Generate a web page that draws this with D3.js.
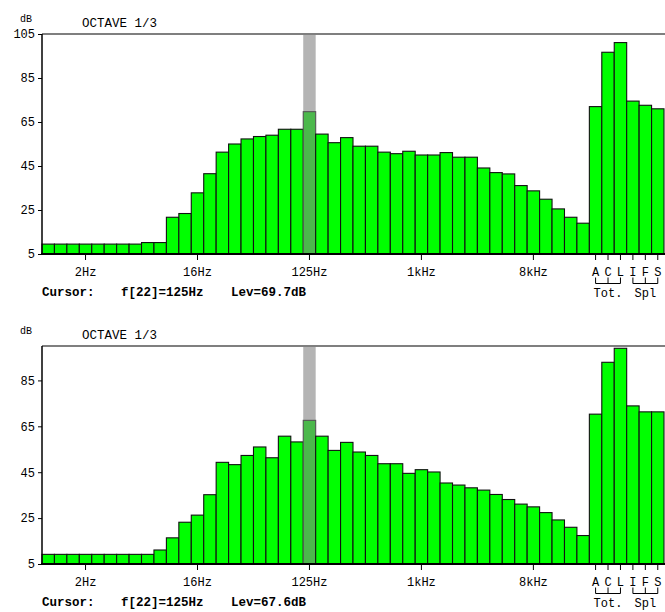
<!DOCTYPE html>
<html><head><meta charset="utf-8">
<script src="https://cdn.jsdelivr.net/npm/d3@7"></script>
<style>
body{margin:0;background:#fff}
svg text{font-family:"Liberation Mono","DejaVu Sans Mono",monospace;fill:#000}
</style>
</head><body>
<svg id="chart" width="665" height="612"></svg>
<script>
// 1/3-octave bands (Hz) followed by the overall weightings and time constants
const bands = ["1","1.25","1.6","2","2.5","3.15","4","5","6.3","8","10","12.5","16","20","25","31.5","40","50","63","80","100","125","160","200","250","315","400","500","630","800","1k","1.25k","1.6k","2k","2.5k","3.15k","4k","5k","6.3k","8k","10k","12.5k","16k","20k","A","C","L","I","F","S"];

// Tick labels shown under the frequency axis
const tickLabels = {"2":"2Hz","16":"16Hz","125":"125Hz","1k":"1kHz","8k":"8kHz","A":"A","C":"C","L":"L","I":"I","F":"F","S":"S"};

// Levels in dB, upper spectrum
const levelsTop = [9.5,9.5,9.5,9.5,9.5,9.5,9.5,9.5,10.2,10.2,21.7,23.4,32.8,41.5,51.3,55.0,57.3,58.4,59.0,61.7,61.7,69.7,59.5,55.6,57.9,54.0,54.0,51.3,50.6,51.7,50.0,50.0,51.1,49.0,49.0,44.1,42.0,41.4,36.1,33.7,29.9,25.5,21.7,19.0,72.0,96.7,101.1,74.5,72.6,71.0];

// Levels in dB, lower spectrum
const levelsBottom = [9.2,9.2,9.2,9.2,9.2,9.2,9.2,9.2,9.2,11.1,16.4,23.2,26.3,35.2,49.3,48.3,52.3,56.0,51.3,60.7,58.2,67.6,60.7,54.5,58.0,53.8,52.3,48.7,48.7,44.5,46.1,45.1,40.3,39.4,38.2,37.2,35.3,33.1,31.1,29.9,27.4,24.2,21.0,17.4,70.3,92.9,99.0,73.9,71.3,71.3];

const yTicksTop = [5,25,45,65,85,105];
const yTicksBottom = [5,25,45,65,85];
const yDomainTop = [5,105];
const yDomainBottom = [5,100];

const cursorIndex = 21;           // f[22] in 1-based numbering
const groups = [
  {label:"Tot.", from:"A", to:"L"},
  {label:"Spl",  from:"I", to:"S"}
];

const svg = d3.select("#chart");
const x = d3.scaleBand().domain(bands).range([42, 664]).paddingInner(0).paddingOuter(0);

const panels = [
  {values: levelsTop, domain: yDomainTop, ticks: yTicksTop, top: 34, base: 254},
  {values: levelsBottom, domain: yDomainBottom, ticks: yTicksBottom, top: 346, base: 564}
];

panels.forEach(p => {
  const g = svg.append("g");
  const y = d3.scaleLinear().domain(p.domain).range([p.base, p.top]);

  // frame: top rule
  g.append("line").attr("x1", 42).attr("x2", 665).attr("y1", p.top).attr("y2", p.top)
    .attr("stroke", "#555").attr("stroke-width", 1.5);

  // cursor column
  const cb = bands[cursorIndex];
  g.append("rect").attr("x", x(cb)).attr("width", x.bandwidth())
    .attr("y", p.top + 1).attr("height", p.base - p.top - 1).attr("fill", "#b4b4b4");

  // bars
  g.append("g").selectAll("rect").data(p.values).join("rect")
    .attr("x", (d, i) => x(bands[i]))
    .attr("width", x.bandwidth())
    .attr("y", d => y(d))
    .attr("height", d => p.base - y(d))
    .attr("fill", (d, i) => i === cursorIndex ? "#4cb84c" : "#00ff00")
    .attr("stroke", (d, i) => i === cursorIndex ? "#555" : "#111")
    .attr("stroke-width", 1.1);

  // y axis
  const ya = g.append("g").attr("transform", "translate(42,0)")
    .call(d3.axisLeft(y).tickValues(p.ticks).tickSize(4).tickPadding(3).tickFormat(d3.format("d")));
  ya.select(".domain").remove();
  ya.selectAll("text").style("font-size", "12px").attr("font-family", null);
  ya.selectAll("line").attr("stroke", "#000");
  g.append("line").attr("x1", 42).attr("x2", 42).attr("y1", p.top).attr("y2", p.base)
    .attr("stroke", "#000").attr("stroke-width", 1.5);

  // x axis
  const tickBands = bands.filter(b => tickLabels[b] !== undefined);
  const xa = g.append("g").attr("transform", `translate(0,${p.base})`)
    .call(d3.axisBottom(x).tickValues(tickBands).tickSize(6).tickPadding(6).tickFormat(b => tickLabels[b]));
  xa.select(".domain").remove();
  xa.selectAll("text").style("font-size", "12px").attr("font-family", null).attr("dy", "0.8em");
  xa.selectAll("line").attr("stroke", "#000");
  g.append("line").attr("x1", 41).attr("x2", 665).attr("y1", p.base).attr("y2", p.base)
    .attr("stroke", "#000").attr("stroke-width", 2.2);

  // group brackets under A C L and I F S
  groups.forEach(gr => {
    const members = bands.slice(bands.indexOf(gr.from), bands.indexOf(gr.to) + 1);
    const cx = members.map(b => x(b) + x.bandwidth() / 2);
    const bg = g.append("g").attr("stroke", "#000").attr("stroke-width", 1);
    cx.forEach(c => bg.append("line").attr("x1", c).attr("x2", c).attr("y1", p.base + 23.5).attr("y2", p.base + 29.5));
    bg.append("line").attr("x1", cx[0]).attr("x2", cx[cx.length - 1]).attr("y1", p.base + 29.5).attr("y2", p.base + 29.5);
    g.append("text").attr("x", (cx[0] + cx[cx.length - 1]) / 2).attr("y", p.base + 43)
      .attr("text-anchor", "middle").style("font-size", "12px").text(gr.label);
  });

  // titles
  g.append("text").attr("x", 20).attr("y", p.top - 12).style("font-size", "10px").text("dB");
  g.append("text").attr("x", 82).attr("y", p.top - 7).style("font-size", "12.5px").text("OCTAVE 1/3");

  // cursor readout
  const lev = p.values[cursorIndex];
  const ct = g.append("g").style("font-size", "12.5px").style("font-weight", "bold");
  ct.append("text").attr("x", 42).attr("y", p.base + 42).text("Cursor:");
  ct.append("text").attr("x", 121).attr("y", p.base + 42).text(`f[${cursorIndex + 1}]=${cb}Hz`);
  ct.append("text").attr("x", 231).attr("y", p.base + 42).text(`Lev=${lev.toFixed(1)}dB`);
});
</script>
</body></html>
